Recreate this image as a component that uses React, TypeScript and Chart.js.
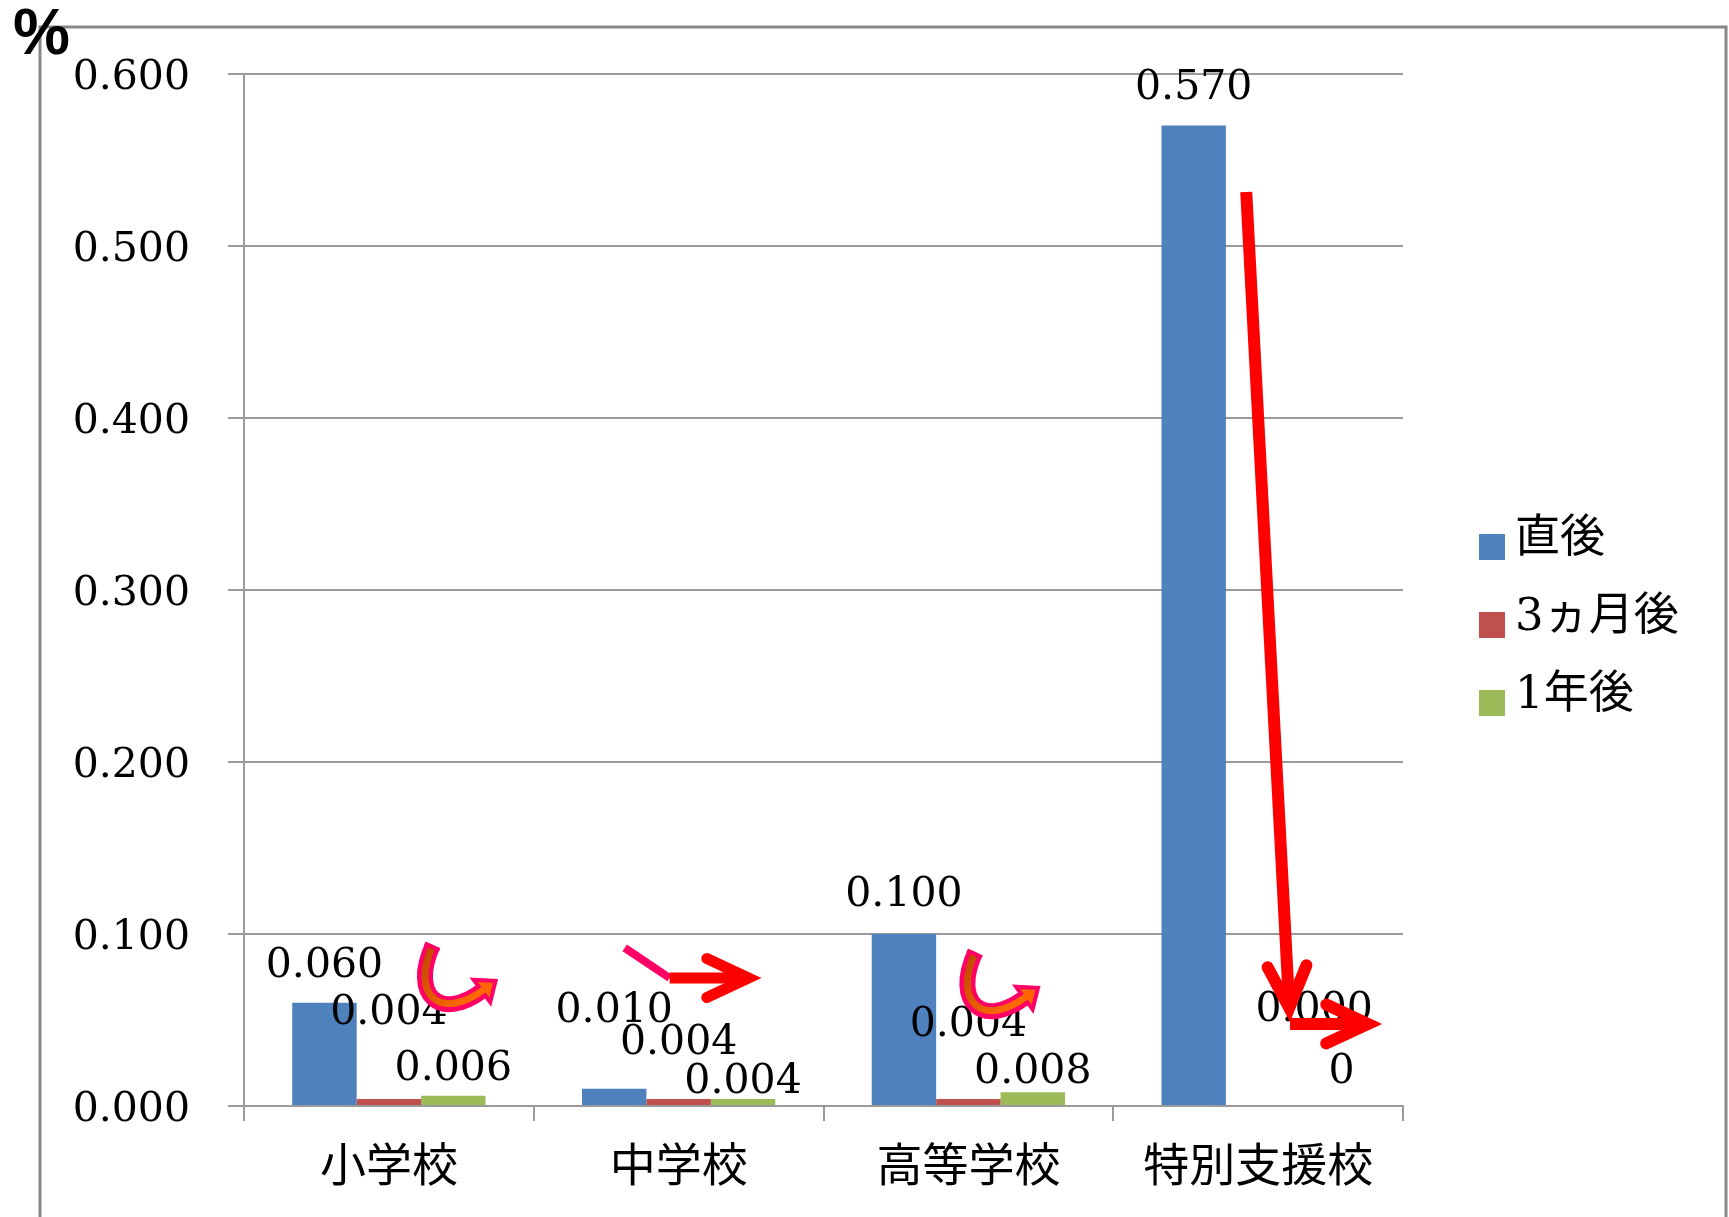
import React, { useEffect, useRef } from "react";
import { Chart, registerables } from "chart.js";

Chart.register(...registerables);

// ---- data ----
const categories = ["小学校", "中学校", "高等学校", "特別支援校"];
const seriesNames = ["直後", "3ヵ月後", "1年後"];
const rightAfter = [0.06, 0.01, 0.1, 0.57];
const afterThreeMonths = [0.004, 0.004, 0.004, 0];
const afterOneYear = [0.006, 0.004, 0.008, 0];
const yTickValues = [0, 0.1, 0.2, 0.3, 0.4, 0.5, 0.6];
// decimals printed in each value label (series x category)
const labelDecimals = [
  [3, 3, 3, 3],
  [3, 3, 3, 3],
  [3, 3, 3, 0],
];

// ---- styling ----
const seriesColors = ["#4F81BD", "#C0504D", "#9BBB59"];
const GRID = "#9a9a9a";
const SERIF = "'DejaVu Serif', serif";
const CJK = "'DejaVu Serif', 'Noto Sans CJK JP', sans-serif";
const W = 1729;
const H = 1217;

// value label placement: [dx, dy] in px from the top centre of its bar
const labelOffsets = [
  [[0, -41], [0, -82], [0, -43], [0, -42]],
  [[0, -90], [0, -60], [0, -78], [56, -100]],
  [[0, -31], [0, -21], [0, -24], [19, -38]],
];

// hand-drawn arrows, given as [category position, value]
const curvedArrowAnchors = [
  [0.152, 0.0936],
  [2.024, 0.0895],
];
const pinkStroke = [[0.814, 0.0919], [0.969, 0.0744]];
const middleArrow = [[0.969, 0.0744], [1.286, 0.0744]];
const dropArrow = [[2.959, 0.5314], [3.11, 0.0488]];
const flatArrow = [[3.11, 0.0477], [3.428, 0.0477]];

const frameAndPercent = {
  id: "frameAndPercent",
  beforeDraw(chart: any) {
    const ctx = chart.ctx;
    ctx.save();
    ctx.fillStyle = "#ffffff";
    ctx.fillRect(0, 0, W, H);
    ctx.strokeStyle = "#888888";
    ctx.lineWidth = 3;
    ctx.beginPath();
    ctx.moveTo(40, H);
    ctx.lineTo(40, 27);
    ctx.lineTo(1726, 27);
    ctx.lineTo(1726, H);
    ctx.stroke();
    ctx.restore();
  },
  afterDraw(chart: any) {
    const ctx = chart.ctx;
    ctx.save();
    ctx.fillStyle = "#000";
    ctx.font = "bold 64px 'Liberation Sans', Arial, sans-serif";
    ctx.textAlign = "left";
    ctx.textBaseline = "alphabetic";
    ctx.fillText("%", 13, 54);
    ctx.restore();
  },
};

const valueLabels = {
  id: "valueLabels",
  afterDatasetsDraw(chart: any) {
    const ctx = chart.ctx;
    ctx.save();
    ctx.fillStyle = "#000";
    ctx.font = `41px ${SERIF}`;
    ctx.textAlign = "center";
    ctx.textBaseline = "alphabetic";
    chart.data.datasets.forEach((ds: any, i: number) => {
      const meta = chart.getDatasetMeta(i);
      meta.data.forEach((bar: any, j: number) => {
        const v = ds.data[j] as number;
        const [dx, dy] = labelOffsets[i][j];
        ctx.fillText(v.toFixed(labelDecimals[i][j]), bar.x + dx, bar.y + dy + 15);
      });
    });
    ctx.restore();
  },
};

const sideLegend = {
  id: "sideLegend",
  afterDraw(chart: any) {
    const ctx = chart.ctx;
    const area = chart.chartArea;
    const boxX = area.right + 76;
    ctx.save();
    ctx.font = `45px ${CJK}`;
    ctx.textAlign = "left";
    ctx.textBaseline = "middle";
    chart.data.datasets.forEach((ds: any, i: number) => {
      const cy = area.top + 466 + i * 78;
      ctx.fillStyle = ds.backgroundColor;
      ctx.fillRect(boxX, cy - 6, 26, 26);
      ctx.fillStyle = "#000";
      ctx.fillText(ds.label, boxX + 36, cy);
    });
    ctx.restore();
  },
};

function toPx(chart: any, p: number[]) {
  return [chart.scales.x.getPixelForValue(p[0]), chart.scales.y.getPixelForValue(p[1])];
}

// red shaft with an open chevron head whose outer point lands on b
function straightArrow(ctx: any, a: number[], b: number[], width: number) {
  const ang = Math.atan2(b[1] - a[1], b[0] - a[0]);
  const spread = (25 * Math.PI) / 180;
  const back = width / 2 / Math.sin(spread);
  const apex = [b[0] - Math.cos(ang) * back, b[1] - Math.sin(ang) * back];
  ctx.strokeStyle = "#FF0000";
  ctx.lineWidth = width;
  ctx.lineCap = "butt";
  ctx.beginPath();
  ctx.moveTo(a[0], a[1]);
  ctx.lineTo(apex[0], apex[1]);
  ctx.stroke();
  const len = 46;
  ctx.lineCap = "round";
  ctx.lineJoin = "miter";
  ctx.miterLimit = 10;
  ctx.beginPath();
  ctx.moveTo(apex[0] - len * Math.cos(ang - spread), apex[1] - len * Math.sin(ang - spread));
  ctx.lineTo(apex[0], apex[1]);
  ctx.lineTo(apex[0] - len * Math.cos(ang + spread), apex[1] - len * Math.sin(ang + spread));
  ctx.stroke();
}

function curvedArrow(ctx: any, ax: number, ay: number) {
  const PINK = "#FF0066";
  const c1 = [ax - 23, ay + 50];
  const c2 = [ax + 7, ay + 77];
  const p3 = [ax + 49, ay + 46];
  let dx = p3[0] - c2[0];
  let dy = p3[1] - c2[1];
  const dl = Math.hypot(dx, dy);
  dx /= dl;
  dy /= dl;
  const nx = -dy;
  const ny = dx;
  ctx.lineCap = "butt";
  ctx.lineJoin = "round";
  ctx.strokeStyle = PINK;
  ctx.lineWidth = 16;
  ctx.beginPath();
  ctx.moveTo(ax, ay);
  ctx.bezierCurveTo(c1[0], c1[1], c2[0], c2[1], p3[0], p3[1]);
  ctx.stroke();
  // head
  const tip = [p3[0] + dx * 17, p3[1] + dy * 17];
  ctx.beginPath();
  ctx.moveTo(p3[0] + nx * 14, p3[1] + ny * 14);
  ctx.lineTo(tip[0], tip[1]);
  ctx.lineTo(p3[0] - nx * 14, p3[1] - ny * 14);
  ctx.closePath();
  ctx.fillStyle = "#FF6600";
  ctx.fill();
  ctx.lineJoin = "miter";
  ctx.lineWidth = 4;
  ctx.strokeStyle = PINK;
  ctx.stroke();
  // orange core
  const g = ctx.createLinearGradient(ax, ay, p3[0], p3[1]);
  g.addColorStop(0, "#C24A00");
  g.addColorStop(1, "#FF6A00");
  ctx.strokeStyle = g;
  ctx.lineWidth = 7;
  ctx.beginPath();
  ctx.moveTo(ax, ay);
  ctx.bezierCurveTo(c1[0], c1[1], c2[0], c2[1], p3[0] + dx * 3, p3[1] + dy * 3);
  ctx.stroke();
  // tail edge
  let tx = c1[0] - ax;
  let ty = c1[1] - ay;
  const tl = Math.hypot(tx, ty);
  tx /= tl;
  ty /= tl;
  const px = -ty;
  const py = tx;
  ctx.strokeStyle = PINK;
  ctx.lineWidth = 4;
  ctx.beginPath();
  ctx.moveTo(ax + tx * 2 + px * 8, ay + ty * 2 + py * 8);
  ctx.lineTo(ax + tx * 2 - px * 8, ay + ty * 2 - py * 8);
  ctx.stroke();
}

const arrows = {
  id: "arrows",
  afterDraw(chart: any) {
    const ctx = chart.ctx;
    ctx.save();
    curvedArrowAnchors.forEach((p) => {
      const [x, y] = toPx(chart, p);
      curvedArrow(ctx, x, y);
    });
    const s0 = toPx(chart, pinkStroke[0]);
    const s1 = toPx(chart, pinkStroke[1]);
    ctx.strokeStyle = "#FF0066";
    ctx.lineWidth = 8;
    ctx.lineCap = "butt";
    ctx.beginPath();
    ctx.moveTo(s0[0], s0[1]);
    ctx.lineTo(s1[0], s1[1]);
    ctx.stroke();
    straightArrow(ctx, toPx(chart, middleArrow[0]), toPx(chart, middleArrow[1]), 11);
    straightArrow(ctx, toPx(chart, dropArrow[0]), toPx(chart, dropArrow[1]), 12);
    straightArrow(ctx, toPx(chart, flatArrow[0]), toPx(chart, flatArrow[1]), 12);
    ctx.restore();
  },
};

export default function App() {
  const canvasRef = useRef<HTMLCanvasElement | null>(null);

  useEffect(() => {
    const canvas = canvasRef.current;
    if (!canvas) return;
    const values = [rightAfter, afterThreeMonths, afterOneYear];
    const chart = new Chart(canvas, {
      type: "bar",
      data: {
        labels: categories,
        datasets: values.map((data, i) => ({
          label: seriesNames[i],
          data,
          backgroundColor: seriesColors[i],
          borderWidth: 0,
          barPercentage: 1,
          categoryPercentage: 0.667,
        })),
      },
      options: {
        responsive: false,
        animation: false,
        devicePixelRatio: 1,
        layout: { padding: { left: 0, top: 74, right: 326, bottom: 0 } },
        plugins: {
          legend: { display: false },
          tooltip: { enabled: false },
          title: { display: false },
        },
        scales: {
          x: {
            offset: true,
            grid: {
              offset: true,
              drawOnChartArea: false,
              drawTicks: true,
              tickLength: 15,
              color: GRID,
              lineWidth: 2,
            },
            border: { display: true, color: GRID, width: 2 },
            ticks: {
              font: { family: CJK, size: 46 },
              color: "#000",
              padding: 20,
              maxRotation: 0,
              autoSkip: false,
            },
            afterFit: (s: any) => {
              s.height = 111;
            },
          },
          y: {
            min: 0,
            max: 0.6,
            afterBuildTicks: (s: any) => {
              s.ticks = yTickValues.map((v) => ({ value: v }));
            },
            ticks: {
              callback: (v: any) => Number(v).toFixed(3),
              font: { family: SERIF, size: 41 },
              color: "#000",
              padding: 38,
              labelOffset: 4,
            },
            grid: { color: GRID, lineWidth: 2, tickLength: 16, drawTicks: true },
            border: { display: true, color: GRID, width: 2 },
            afterFit: (s: any) => {
              s.width = 244;
            },
          },
        },
      },
      plugins: [frameAndPercent, valueLabels, arrows, sideLegend],
    });
    return () => chart.destroy();
  }, []);

  return (
    <div style={{ position: "absolute", left: 0, top: 0, width: W, height: H, background: "#fff" }}>
      <canvas ref={canvasRef} width={W} height={H} style={{ display: "block", width: W, height: H }} />
    </div>
  );
}
